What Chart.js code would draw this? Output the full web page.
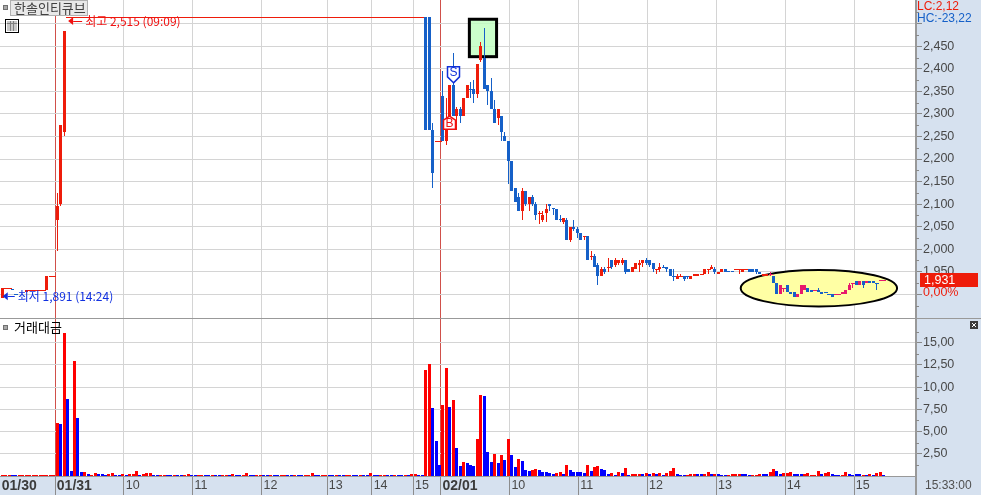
<!DOCTYPE html>
<html>
<head>
<meta charset="utf-8">
<title>한솔인티큐브</title>
<script src="https://cdn.jsdelivr.net/npm/chart.js@4/dist/chart.umd.min.js"></script>
<style>
  html, body { margin: 0; padding: 0; background: #d6e1ef; overflow: hidden; }
  canvas { display: block; }
</style>
</head>
<body>
<canvas id="grafico" width="981" height="495"></canvas>
<script>
const SLOTS = 266;

// eje de tiempo: velas de 3 minutos, los huecos quedan sin etiqueta
const tickSlots = [0, 16, 36, 56, 76, 95, 108, 120, 128, 148, 168, 188, 208, 228, 248];
const tickLabels = ["01/30", "01/31", "10", "11", "12", "13", "14", "15", "02/01", "10", "11", "12", "13", "14", "15"];
const dateSlots = [16, 128];

const priceTicks = [2500, 2450, 2400, 2350, 2300, 2250, 2200, 2150, 2100, 2050, 2000, 1950, 1900];
const priceUnlabeled = [2500, 1900];
const priceMinor = [2525, 2475, 2425, 2375, 2325, 2275, 2225, 2175, 2125, 2075, 2025, 1975, 1925, 1875];
const volumeTicks = [2.5, 5, 7.5, 10, 12.5, 15];
const volumeMinor = [1.25, 3.75, 6.25, 8.75, 11.25, 13.75, 16.25];

// el precio queda clavado en el limite superior casi toda la sesion del 01/31
const limitRun = [
  2515, 2515, 2515, 2515, 2515, 2515, 2515, 2515, 2515, 2515, 2515, 2515, 2515,
  2515, 2515, 2515, 2515, 2515, 2515, 2515, 2515, 2515, 2515, 2515, 2515, 2515,
  2515, 2515, 2515, 2515, 2515, 2515, 2515, 2515, 2515, 2515, 2515, 2515, 2515,
  2515, 2515, 2515, 2515, 2515, 2515, 2515, 2515, 2515, 2515, 2515, 2515, 2515,
  2515, 2515, 2515, 2515, 2515, 2515, 2515, 2515, 2515, 2515, 2515, 2515, 2515,
  2515, 2515, 2515, 2515, 2515, 2515, 2515, 2515, 2515, 2515, 2515, 2515, 2515,
  2515, 2515, 2515, 2515, 2515, 2515, 2515, 2515, 2515, 2515, 2515, 2515, 2515,
  2515, 2515, 2515, 2515, 2515, 2515, 2515, 2515, 2515, 2515, 2515, 2515, 2515
];

const opens = [
  1891, 1915, 1915, 1911, 1901, null, null, 1905, 1910, 1910, 1910, 1910, 1910, 1910, 1940, 1940, 2065, 2100, 2260,
  ...limitRun,
  2515, 2515, 2265, 2240, 2240, 2340, 2240, 2285, 2365, 2295, 2310, 2295, 2335, 2356, 2355, 2345, 2420, 2425,
  2365, 2350, 2310, 2290, 2295, 2250, 2240, 2195, 2135, 2115, 2085, 2130, 2100, 2115, 2100, 2080, 2065, 2080,
  2100, 2091, 2090, 2066, 2060, 2065, 2020, 2050, 2045, 2035, 2030, 2030, 1985, 1985, 1965, 1940, 1955, 1960,
  1975, 1965, 1970, 1970, 1975, 1955, 1950, 1955, 1965, 1970, 1975, 1975, 1970, 1955, 1955, 1961, 1960, 1955,
  1941, 1935, 1940, 1940, 1941, 1935, 1940, 1940, 1945, 1945, 1955, 1955, 1955, 1945, 1950, 1955, 1951, 1951,
  1955, 1955, 1950, 1955, 1955, 1955, 1955, 1950, 1940, 1940, 1945, 1940, 1925, 1900, 1915, 1920, 1905, 1905,
  1895, 1900, 1910, 1915, 1910, 1910, 1910, 1905, 1906, 1901, 1900, 1900, 1900, 1900, 1900, 1910, 1925, 1930,
  1920, 1930, 1925, 1930, 1930, 1926, 1931, 1931
];
const highs = [
  1915, 1915, 1915, 1911, 1901, null, null, 1910, 1910, 1910, 1910, 1910, 1910, 1940, 1940, 1940, 2125, 2275, 2485,
  ...limitRun,
  2515, 2515, 2280, 2240, 2240, 2395, 2335, 2365, 2435, 2315, 2315, 2335, 2365, 2370, 2375, 2410, 2460, 2490,
  2365, 2380, 2330, 2310, 2295, 2260, 2240, 2195, 2135, 2125, 2135, 2130, 2115, 2120, 2105, 2085, 2085, 2100,
  2100, 2091, 2090, 2075, 2070, 2070, 2050, 2065, 2050, 2035, 2030, 2030, 1995, 1990, 1970, 1960, 1960, 1980,
  1975, 1980, 1975, 1980, 1975, 1955, 1960, 1970, 1975, 1975, 1980, 1975, 1970, 1955, 1970, 1965, 1960, 1955,
  1955, 1945, 1945, 1940, 1941, 1940, 1945, 1945, 1945, 1955, 1955, 1965, 1960, 1950, 1955, 1955, 1951, 1951,
  1955, 1955, 1955, 1955, 1955, 1955, 1955, 1950, 1945, 1945, 1950, 1940, 1925, 1920, 1915, 1920, 1905, 1905,
  1900, 1920, 1920, 1915, 1910, 1910, 1915, 1905, 1906, 1901, 1900, 1900, 1900, 1905, 1910, 1925, 1925, 1930,
  1930, 1930, 1930, 1930, 1930, 1926, 1931, 1931
];
const lows = [
  1891, 1915, 1915, 1910, 1900, null, null, 1905, 1910, 1910, 1910, 1910, 1910, 1910, 1940, 1940, 1995, 2095, 2250,
  ...limitRun,
  2265, 2265, 2135, 2240, 2240, 2240, 2230, 2285, 2295, 2265, 2280, 2295, 2335, 2335, 2325, 2335, 2415, 2355,
  2320, 2310, 2280, 2275, 2240, 2240, 2145, 2130, 2105, 2085, 2065, 2095, 2085, 2095, 2065, 2055, 2060, 2060,
  2085, 2075, 2065, 2060, 2055, 2020, 2015, 2040, 2025, 2020, 2020, 1975, 1975, 1960, 1920, 1940, 1945, 1950,
  1955, 1960, 1965, 1965, 1945, 1950, 1950, 1955, 1950, 1960, 1965, 1960, 1950, 1945, 1950, 1960, 1950, 1940,
  1930, 1935, 1940, 1930, 1935, 1935, 1940, 1940, 1945, 1945, 1945, 1955, 1945, 1945, 1950, 1950, 1950, 1950,
  1955, 1945, 1950, 1955, 1950, 1950, 1945, 1945, 1940, 1940, 1940, 1925, 1900, 1900, 1905, 1905, 1900, 1895,
  1895, 1900, 1910, 1905, 1905, 1910, 1905, 1900, 1905, 1900, 1895, 1900, 1900, 1900, 1900, 1910, 1915, 1920,
  1920, 1915, 1925, 1925, 1925, 1910, 1931, 1931
];
const closes = [
  1915, 1915, 1915, 1910, 1900, null, null, 1910, 1910, 1910, 1910, 1910, 1910, 1940, 1940, 1940, 2095, 2275, 2485,
  ...limitRun,
  2265, 2265, 2170, 2240, 2240, 2240, 2270, 2365, 2295, 2310, 2295, 2335, 2365, 2355, 2345, 2410, 2450, 2355,
  2350, 2310, 2280, 2310, 2260, 2240, 2195, 2130, 2105, 2085, 2130, 2100, 2115, 2100, 2075, 2080, 2075, 2090,
  2095, 2090, 2065, 2065, 2070, 2020, 2050, 2045, 2035, 2020, 2030, 1975, 1985, 1960, 1940, 1955, 1950, 1960,
  1960, 1975, 1975, 1975, 1950, 1950, 1960, 1970, 1970, 1975, 1970, 1965, 1955, 1955, 1960, 1960, 1955, 1940,
  1940, 1940, 1940, 1935, 1940, 1940, 1945, 1945, 1945, 1955, 1955, 1960, 1950, 1950, 1955, 1950, 1950, 1950,
  1955, 1955, 1955, 1955, 1950, 1950, 1950, 1945, 1945, 1945, 1945, 1925, 1900, 1920, 1915, 1905, 1900, 1895,
  1900, 1920, 1920, 1905, 1905, 1910, 1905, 1900, 1905, 1900, 1895, 1900, 1900, 1905, 1910, 1920, 1925, 1920,
  1930, 1920, 1930, 1925, 1925, 1925, 1931, 1931
];

const volumes = [
  .11, .11, .11, .11, .11, .11, .11, .11, .11, .11, .11, .11, .11, .11, .11, .11,
  6.0, 5.8, 16.1, 8.67, .56, 12.95, 6.53, .45, .45, .22, .11, .34, .22, .22, .11, .22, .34, .11, .11, .22,
  .11, .22, .22, .6, .11, .22, .3, .34,
  .11, .11, .11, .11, .11, .11, .11, .11, .11, .11, .22, .11, .11, .11, .11, .11, .11, .11, .11, .11, .11, .11, .11, .22, .11,
  .11, .11, .3, .11, .11, .11, .11, .11, .11, .11, .11, .11, .11, .11, .11, .11, .11, .11, .11, .11, .11, .3, .11, .11, .11, .11,
  .11, .11, .11, .11, .11, .11, .11, .11, .11, .11, .11, .11, .3, .11, .11, .11, .11, .11, .11, .11, .11, .11, .11, .11,
  .25, .25, .11, .11,
  11.94, 12.6, 7.66, 3.94, 1.24, 8.0, 12.16, 7.77, 8.56, 3.15, 1.13, 1.58, 1.46, 1.24, 1.13, 4.17, 9.12, 9.0,
  2.7, 1.58, 2.48, 1.46, 2.36, 1.8, 4.17, 2.36, 1.01, 1.91, 1.69, .68, .56, .68, .79, .68, .45, .45, .34, .22,
  .34, .45, .22, 1.24, .68, .45, .45, .45, .34, 1.24, .56, 1.01, 1.13, .79, .68, .22, .34, .11, .45, .34, .9, .11,
  .22, .22, .22, .22, .34, .22, .34, .22, .34, .11, .34, .56, .9,
  .22, .11, .11, .11, .22, .22, .22, .22, .22, .45, .22, .22, .22, .11, .11, .11, .22, .22, .22, .22, .22, .11, .11, .11,
  .22, .22, .22, .45, .79, .56, .22, .34, .34, .45, .22, .22, .22, .22, .34, .11, .11, .56, .22, .34, .45, .22, .11, .11,
  .11, .45, .22, .11, .22, .22, .11, .11, .22, .11, .34, .45, .11
];
// 1 = barra roja, 0 = barra azul
const volumeUp = [
  1, 1, 1, 0, 0, 1, 1, 1, 1, 1, 1, 1, 1, 1, 1, 1,
  1, 0, 1, 0, 0, 1, 0, 0, 1, 0, 1, 1, 0, 0, 0, 1, 1, 0, 0, 1,
  0, 1, 1, 1, 0, 1, 1, 1,
  0, 0, 1, 1, 0, 0, 1, 0, 0, 1, 1, 0, 0, 1, 1, 0, 0, 1, 0, 0, 1, 1, 0, 1, 0,
  0, 1, 1, 0, 0, 1, 1, 0, 0, 1, 0, 0, 1, 1, 0, 0, 1, 0, 0, 1, 1, 1, 0, 0, 1, 1,
  0, 0, 1, 0, 0, 1, 1, 0, 0, 1, 0, 0, 1, 0, 0, 1, 1, 0, 0, 1, 0, 0, 1, 0,
  1, 1, 0, 0,
  1, 1, 0, 0, 0, 1, 1, 0, 1, 0, 0, 1, 0, 0, 0, 1, 1, 0, 0, 0, 1, 0, 1, 0, 1, 0, 0, 1, 0, 0, 0, 1, 1, 0, 0, 0, 0, 0,
  1, 1, 0, 1, 0, 0, 0, 0, 0, 1, 0, 1, 1, 0, 0, 0, 1, 0, 1, 0, 1, 0,
  1, 1, 1, 0, 1, 0, 1, 0, 1, 0, 1, 1, 1,
  0, 0, 0, 1, 1, 1, 0, 0, 1, 1, 0, 1, 0, 0, 0, 1, 1, 1, 1, 0, 0, 0, 1, 1,
  1, 0, 0, 1, 1, 0, 0, 1, 1, 1, 0, 0, 0, 1, 1, 1, 1, 1, 0, 1, 1, 0, 0, 0,
  1, 1, 0, 0, 0, 0, 1, 0, 1, 0, 1, 1, 0
];

// senales y resaltados, en unidades de los ejes: vela y precio
const buySignal = { slot: 130, price: 2295 };
const sellSignal = { slot: 131, price: 2369 };
const highMark = { slot: 19, price: 2515, text: "최고 2,515 (09:09)" };
const lowMark = { slot: 0, price: 1891, text: "최저 1,891 (14:24)" };
const lastPrice = 1931;
const highlightBox = { from: 135.8, to: 143.7, top: 2510, bottom: 2427 };
const highlightOval = { from: 214.6, to: 260, top: 1954, bottom: 1873 };

const RED = "#ee1c0a", PINK = "#e8186c", BLUE = "#1560c8";
const GRID = "#d4d4d4", AXIS = "#999999", INK = "#484848";
const NUM_FONT = '12.5px "Liberation Sans", sans-serif';
const KO_FONT = '"Noto Sans CJK KR", sans-serif';

function candleColor(i) {
  if (opens[i] > closes[i]) return BLUE;
  return i >= 223 ? PINK : RED;
}
function snapX(px) {
  return Math.round(px - 0.05) + 0.5;
}

// las barras caen en pixeles enteros, como en el grafico original
const snapBars = {
  id: "snapBars",
  beforeDatasetsDraw(chart) {
    chart.data.datasets.forEach((ds, d) => {
      chart.getDatasetMeta(d).data.forEach(el => {
        el.x = snapX(el.x);
        el.y = Math.round(el.y);
        el.base = Math.round(el.base);
        if (el.y === el.base) {
          // sin cuerpo: raya de un pixel casi continua
          el.base = el.y + 1;
          el.x += 0.5;
          el.width = 4;
        }
      });
    });
  }
};

const panels = {
  id: "panels",
  beforeDraw(chart) {
    const { ctx, chartArea: a } = chart;
    ctx.save();
    ctx.fillStyle = "#ffffff";
    ctx.fillRect(a.left, a.top, a.right - a.left, a.bottom - a.top);
    ctx.restore();
  },
  beforeDatasetsDraw(chart) {
    const { ctx, scales: { x, y } } = chart;
    ctx.save();

    // ovalo amarillo
    const ox1 = x.getPixelForValue(highlightOval.from), ox2 = x.getPixelForValue(highlightOval.to);
    const oy1 = y.getPixelForValue(highlightOval.top), oy2 = y.getPixelForValue(highlightOval.bottom);
    ctx.beginPath();
    ctx.ellipse((ox1 + ox2) / 2, (oy1 + oy2) / 2, (ox2 - ox1) / 2, (oy2 - oy1) / 2, 0, 0, Math.PI * 2);
    ctx.fillStyle = "#ffffa4";
    ctx.fill();
    ctx.lineWidth = 2;
    ctx.strokeStyle = "#000000";
    ctx.stroke();

    // caja verde del maximo
    const bx1 = x.getPixelForValue(highlightBox.from), bx2 = x.getPixelForValue(highlightBox.to);
    const by1 = y.getPixelForValue(highlightBox.top), by2 = y.getPixelForValue(highlightBox.bottom);
    ctx.fillStyle = "rgba(190,255,190,0.8)";
    ctx.fillRect(bx1, by1, bx2 - bx1, by2 - by1);
    ctx.lineWidth = 3;
    ctx.strokeStyle = "#000000";
    ctx.strokeRect(bx1, by1, bx2 - bx1, by2 - by1);
    ctx.restore();
  },
  afterDraw(chart) {
    const { ctx, chartArea: a, scales: { x, y, y2 } } = chart;
    ctx.save();

    // separadores de paneles
    ctx.fillStyle = AXIS;
    ctx.fillRect(a.left, Math.round(y.bottom), 981, 1);
    ctx.fillRect(a.right - 1, 0, 2, 495);

    // marcas menores de los ejes
    ctx.fillStyle = "#888888";
    priceMinor.forEach(v => ctx.fillRect(a.right, Math.round(y.getPixelForValue(v)), 3, 1));
    volumeMinor.forEach(v => ctx.fillRect(a.right, Math.round(y2.getPixelForValue(v)), 3, 1));

    // senal de venta
    const sx = snapX(x.getPixelForValue(sellSignal.slot));
    const sy = y.getPixelForValue(sellSignal.price);
    ctx.beginPath();
    ctx.moveTo(sx, sy);
    ctx.lineTo(sx - 6, sy - 6);
    ctx.lineTo(sx - 6, sy - 16);
    ctx.lineTo(sx + 6, sy - 16);
    ctx.lineTo(sx + 6, sy - 6);
    ctx.closePath();
    ctx.fillStyle = "#ffffff";
    ctx.fill();
    ctx.lineWidth = 1.5;
    ctx.strokeStyle = "#1030d8";
    ctx.stroke();
    ctx.fillStyle = "#1030d8";
    ctx.font = '12px "Liberation Sans", sans-serif';
    ctx.textAlign = "center";
    ctx.textBaseline = "middle";
    ctx.fillText("S", sx, sy - 10);

    // senal de compra
    const bx = snapX(x.getPixelForValue(buySignal.slot));
    const by = y.getPixelForValue(buySignal.price);
    ctx.beginPath();
    ctx.moveTo(bx, by);
    ctx.lineTo(bx + 6, by + 4);
    ctx.lineTo(bx + 6, by + 13);
    ctx.lineTo(bx - 6, by + 13);
    ctx.lineTo(bx - 6, by + 4);
    ctx.closePath();
    ctx.fillStyle = "#ffffff";
    ctx.fill();
    ctx.strokeStyle = "#f01010";
    ctx.stroke();
    ctx.fillStyle = "#f01010";
    ctx.fillText("B", bx, by + 7);
    ctx.lineWidth = 1;

    // rotulos de maximo y minimo
    ctx.textAlign = "left";
    function mark(m, color, dy, gap) {
      const tip = x.getPixelForValue(m.slot) + 1;
      const my = y.getPixelForValue(m.price) + dy;
      ctx.fillStyle = color;
      ctx.beginPath();
      ctx.moveTo(tip, my);
      ctx.lineTo(tip + 5, my - 4);
      ctx.lineTo(tip + 5, my + 4);
      ctx.closePath();
      ctx.fill();
      ctx.fillRect(tip + 5, Math.round(my), gap, 1);
      ctx.font = "12px " + KO_FONT;
      ctx.fillText(m.text, tip + 5 + gap + 3, my);
    }
    mark(highMark, "#f01010", 4, 9);
    mark(lowMark, "#1030e0", -2, 7);

    // titulos de panel
    ctx.fillStyle = "#e8e8e8";
    ctx.fillRect(11, 1, 76, 14);
    ctx.strokeStyle = "#b0b0b0";
    ctx.strokeRect(10.5, 0.5, 77, 15);
    ctx.fillStyle = "#404040";
    ctx.font = "13px " + KO_FONT;
    ctx.fillText("한솔인티큐브", 14, 8);
    ctx.fillStyle = "#000000";
    ctx.fillText("거래대금", 14, 327);
    [5, 325].forEach(top => {
      ctx.fillStyle = "#a8a8a8";
      ctx.fillRect(3, top, 5, 5);
      ctx.strokeStyle = "#707070";
      ctx.strokeRect(3.5, top + 0.5, 4, 4);
    });

    // icono de tabla
    ctx.strokeStyle = "#000000";
    ctx.strokeRect(5.5, 19.5, 13, 13);
    ctx.fillStyle = "#c8c8c8";
    ctx.fillRect(7, 21, 10, 10);
    ctx.fillStyle = "#808080";
    ctx.fillRect(7, 23, 10, 1);
    ctx.fillRect(10, 21, 1, 10);
    ctx.fillRect(13, 21, 1, 10);

    // cabecera del eje de precios
    ctx.font = '12px "Liberation Sans", sans-serif';
    ctx.fillStyle = RED;
    ctx.fillText("LC:2,12", 917, 7);
    ctx.fillStyle = BLUE;
    ctx.fillText("HC:-23,22", 917, 19);

    // ultimo precio
    ctx.font = NUM_FONT;
    const ty = y.getPixelForValue(lastPrice);
    ctx.fillStyle = RED;
    ctx.fillRect(920, Math.round(ty) - 7, 58, 14);
    ctx.fillStyle = "#ffffff";
    ctx.fillText("1,931", 924, ty);
    ctx.fillStyle = RED;
    ctx.fillText("0,00%", 923, ty + 12);

    // hora
    ctx.font = '12px "Liberation Sans", sans-serif';
    ctx.fillStyle = "#505050";
    ctx.fillText("15:33:00", 925, 486);

    // boton de cierre del panel
    ctx.fillStyle = "#3c3c3c";
    ctx.fillRect(970, 321, 8, 8);
    ctx.strokeStyle = "#ffffff";
    ctx.beginPath();
    ctx.moveTo(972, 323);
    ctx.lineTo(976, 327);
    ctx.moveTo(976, 323);
    ctx.lineTo(972, 327);
    ctx.stroke();
    ctx.restore();
  }
};

function fixedTicks(values) {
  return scale => { scale.ticks = values.map(value => ({ value })); };
}
function fitValueAxis(s) {
  s.width = 65;
  s.paddingTop = 0;
  s.paddingBottom = 0;
}
function gridColorX(c) {
  if (c.index === 0 || !tickSlots.includes(c.index)) return "transparent";
  return dateSlots.includes(c.index) ? "#d0504a" : GRID;
}

new Chart(document.getElementById("grafico"), {
  type: "bar",
  data: {
    labels: Array.from({ length: SLOTS }, (_, i) => i),
    datasets: [
      {
        label: "몸통",
        data: opens.map((o, i) => o === null ? null : [o, closes[i]]),
        backgroundColor: opens.map((o, i) => candleColor(i)),
        barThickness: 3,
        inflateAmount: 0,
        grouped: false,
        yAxisID: "y"
      },
      {
        label: "꼬리",
        data: highs.map((h, i) => h === null ? null : [lows[i], h]),
        backgroundColor: opens.map((o, i) => candleColor(i)),
        barThickness: 1,
        inflateAmount: 0,
        grouped: false,
        yAxisID: "y"
      },
      {
        label: "거래대금",
        data: volumes,
        backgroundColor: volumeUp.map(u => u ? "#ff0000" : "#0000ff"),
        barThickness: 3,
        inflateAmount: 0,
        grouped: false,
        yAxisID: "y2"
      }
    ]
  },
  options: {
    responsive: false,
    animation: false,
    events: [],
    layout: { padding: 0 },
    plugins: { legend: { display: false }, tooltip: { enabled: false } },
    scales: {
      x: {
        type: "category",
        offset: true,
        afterFit: s => { s.height = 19; s.paddingLeft = 0; s.paddingRight = 0; },
        border: { color: AXIS },
        grid: {
          offset: true,
          color: gridColorX,
          tickColor: c => (c.index !== 0 && tickSlots.includes(c.index)) ? "#8c8c8c" : "transparent",
          tickLength: 19
        },
        ticks: {
          autoSkip: false,
          maxRotation: 0,
          align: "start",
          padding: -17,
          color: c => dateSlots.includes(c.index) || c.index === 0 ? "#3c3c3c" : INK,
          font: c => (c.index === 0 || dateSlots.includes(c.index))
            ? { family: '"Liberation Sans"', size: 14, weight: "bold" }
            : { family: '"Liberation Sans"', size: 12.5 },
          callback: (v, i) => {
            const at = tickSlots.indexOf(i);
            return at < 0 ? "" : tickLabels[at];
          }
        }
      },
      y: {
        position: "right",
        stack: "panes",
        stackWeight: 318,
        min: 1847.4,
        max: 2552.7,
        afterFit: fitValueAxis,
        afterBuildTicks: fixedTicks(priceTicks),
        border: { color: AXIS },
        grid: { color: GRID, tickColor: "#888888", tickLength: 6 },
        ticks: {
          autoSkip: false,
          padding: 1,
          color: INK,
          font: { family: '"Liberation Sans"', size: 12.5 },
          callback: v => priceUnlabeled.includes(v) ? "" : v.toLocaleString("en-US")
        }
      },
      y2: {
        position: "right",
        stack: "panes",
        stackWeight: 158,
        min: 0,
        max: 17.79,
        afterFit: fitValueAxis,
        afterBuildTicks: fixedTicks(volumeTicks),
        border: { color: AXIS },
        grid: { color: GRID, tickColor: "#888888", tickLength: 6 },
        ticks: {
          autoSkip: false,
          padding: 1,
          color: INK,
          font: { family: '"Liberation Sans"', size: 12.5 },
          callback: v => v.toFixed(2).replace(".", ",")
        }
      }
    }
  },
  plugins: [snapBars, panels]
});
</script>
</body>
</html>
